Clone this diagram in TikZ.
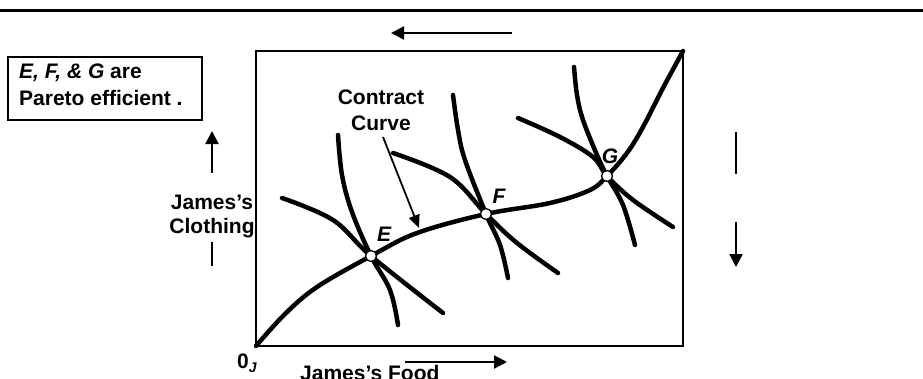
\documentclass[tikz,border=0pt]{standalone}
\usepackage{fontspec}
\setmainfont{Liberation Sans}
\usetikzlibrary{arrows.meta}
\begin{document}
\begin{tikzpicture}[x=1pt,y=-1pt,
  lbl/.style={font=\fontsize{21}{26}\selectfont\bfseries, inner sep=0pt},
  icurve/.style={line width=4.5pt, line cap=round},
  ccurve/.style={line width=4.5pt, line cap=round},
  pt/.style={circle, draw, fill=white, line width=1.3pt, minimum size=11pt, inner sep=0pt},
  arr/.style={line width=2.2pt, -{Triangle[length=13pt,width=13pt]}},
  plainline/.style={line width=2.2pt}]
\useasboundingbox (0,0) rectangle (923,378);
% top rule
\draw[line width=3pt] (0,10) -- (923,10);
% Edgeworth box
\coordinate (OJ) at (256,346);
\coordinate (OK) at (683,51);
\draw[line width=2pt] (OJ) rectangle (OK);
% indifference curves
\draw[icurve] plot[smooth, tension=0.6] coordinates {(282,198) (333,220) (371,256) (443,313)};
\draw[icurve] plot[smooth, tension=0.6] coordinates {(338,135) (342,175) (352,212) (371,256) (390,290) (398,325)};
\draw[icurve] plot[smooth, tension=0.6] coordinates {(393,153) (450,177) (486,214) (517,243) (558,273)};
\draw[icurve] plot[smooth, tension=0.6] coordinates {(453,95) (458,130) (465,160) (486,214) (500,245) (508,278)};
\draw[icurve] plot[smooth, tension=0.6] coordinates {(518,118) (560,137) (593,157) (607,176) (633,200) (673,227)};
\draw[icurve] plot[smooth, tension=0.6] coordinates {(574,67) (577,95) (583,120) (597,155) (607,176) (623,205) (635,245)};
% contract curve
\draw[ccurve] plot[smooth, tension=0.6] coordinates {(OJ) (285,314) (317,287) (371,256) (417,233) (486,214) (550,203) (590,190) (607,176) (627,153) (643,127) (663,88) (OK)};
\node[pt] (E) at (371,256) {};
\node[pt] (F) at (486,214) {};
\node[pt] (G) at (607,176) {};
\node[lbl, font=\fontsize{21}{26}\selectfont\bfseries\itshape] (Elbl) at (384,234) {E};
\node[lbl, font=\fontsize{21}{26}\selectfont\bfseries\itshape] (Flbl) at (499,196) {F};
\node[lbl, font=\fontsize{21}{26}\selectfont\bfseries\itshape] (Glbl) at (610,156) {G};
% contract curve label
\node[lbl, align=center] (cc) at (381,110) {Contract\\Curve};
\coordinate (cctip) at (419,228);
\draw[line width=1.8pt, -{Triangle[length=13pt,width=11pt]}] (383,137) -- (cctip);
% Pareto box
\node[draw, line width=1.5pt, minimum width=194pt, minimum height=63pt, inner sep=0pt] (pbox) at (105,88.5) {};
\node[lbl, font=\fontsize{21}{27}\selectfont\bfseries, align=left, anchor=north west] (ptext) at (19,64) {\itshape E, F, \& G\upshape{} are\\Pareto efficient .};
% James's clothing
\node[lbl, align=center, font=\fontsize{21}{24}\selectfont\bfseries] (jc) at (212,216) {James’s\\Clothing};
\coordinate (jcu) at (212,173);
\coordinate (jcut) at (212,131);
\draw[arr] (jcu) -- (jcut);
\coordinate (jcd1) at (212,242);
\coordinate (jcd2) at (212,266);
\draw[plainline] (jcd1) -- (jcd2);
% right arrows
\coordinate (r1) at (736,132);
\coordinate (r2) at (736,174);
\draw[plainline] (r1) -- (r2);
\coordinate (r3) at (736,222);
\coordinate (r4) at (736,267);
\draw[arr] (r3) -- (r4);
% top arrow
\coordinate (t1) at (512,33);
\coordinate (t2) at (391,33);
\draw[arr] (t1) -- (t2);
% bottom labels
\node[lbl, anchor=base west] (zero) at (237,368) {0\raisebox{-4pt}{\fontsize{14}{16}\selectfont\itshape J}};
\node[lbl, anchor=base west] (food) at (300,380) {James’s Food};
\coordinate (b1) at (405,362);
\coordinate (b2) at (507,362);
\draw[arr] (b1) -- (b2);
\end{tikzpicture}
\end{document}
